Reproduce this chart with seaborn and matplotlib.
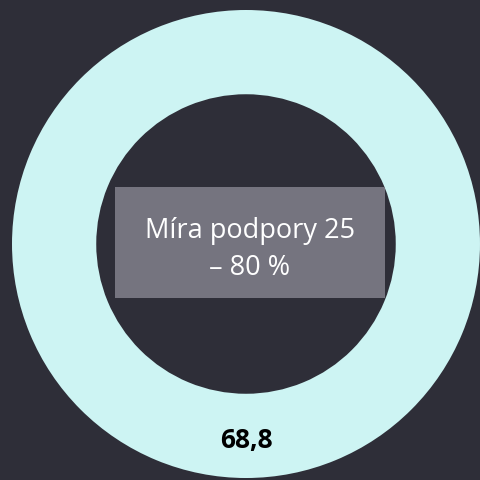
import numpy as np
import pandas as pd
import matplotlib
matplotlib.use('Agg')
import matplotlib.pyplot as plt
import matplotlib.patches as mpatches
import seaborn as sns

# data
segments = ['Míra podpory']
shares = [100]
value_label = '68,8'
center_label = 'Míra podpory 25\n– 80 %'

BG = '#2e2e38'
RING = '#cdf4f3'
BOX = '#75747f'

sns.set_theme(style='white')
plt.rcParams['font.family'] = ['Open Sans', 'DejaVu Sans']

fig = plt.figure(figsize=(4.81, 4.81), dpi=100, facecolor=BG)
ax = fig.add_axes([0, 0, 1, 1])
ax.set_facecolor(BG)

ax.pie(shares, colors=[RING], startangle=90, counterclock=False,
       radius=1.0, wedgeprops=dict(width=0.36, edgecolor=RING, linewidth=0))

# value label at the bottom of the ring
ax.text(0.0, -0.835, value_label, ha='center', va='center',
        fontsize=19, fontweight='bold', color='black')

# grey label box in the centre
box = mpatches.Rectangle((-0.56, -0.231), 1.154, 0.475,
                         facecolor=BOX, edgecolor='none', zorder=3)
ax.add_patch(box)
ax.text(0.017, -0.02, center_label, ha='center', va='center',
        fontsize=19.5, color='white', linespacing=1.4, zorder=4)

ax.set_xlim(-1.0513, 1.0043)
ax.set_ylim(-1.0085, 1.047)
ax.set_aspect('auto')
ax.axis('off')

plt.savefig('out.png', dpi=100, facecolor=BG)
